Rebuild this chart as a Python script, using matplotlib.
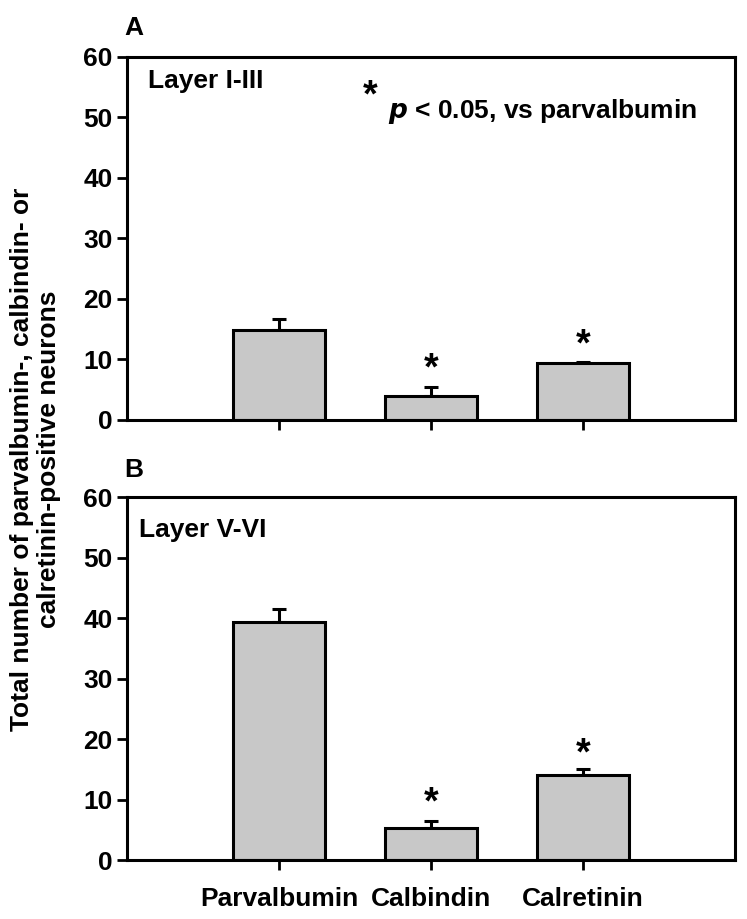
import matplotlib
matplotlib.use('Agg')
import matplotlib.pyplot as plt
import numpy as np

plt.rcParams['font.family'] = ['Liberation Sans', 'DejaVu Sans']
plt.rcParams['font.weight'] = 'bold'

# data
cats = ['Parvalbumin', 'Calbindin', 'Calretinin']
mean_a = [14.8, 4.0, 9.4]
err_a = [1.9, 1.5, 0.2]
star_a = [None, 8.4, 12.3]
mean_b = [39.3, 5.3, 14.1]
err_b = [2.3, 1.1, 0.9]
star_b = [None, 9.3, 17.4]

fig = plt.figure(figsize=(7.47, 9.19), dpi=100)
ax1 = fig.add_axes([0.170, 0.543, 0.814, 0.395])
ax2 = fig.add_axes([0.170, 0.064, 0.814, 0.395])

x = np.arange(1, 4)
for ax, m, e, s in [(ax1, mean_a, err_a, star_a), (ax2, mean_b, err_b, star_b)]:
    ax.bar(x, m, width=0.6, color='#c8c8c8', edgecolor='black', linewidth=2.2, zorder=2)
    ax.errorbar(x, m, yerr=[np.zeros(3), e], fmt='none', ecolor='black',
                elinewidth=2.2, capsize=5, capthick=2.2, zorder=1)
    for xi, si in zip(x, s):
        if si is not None:
            ax.text(xi, si, '*', ha='center', va='center', fontsize=27)
    ax.set_xlim(0, 4)
    ax.set_ylim(0, 60)
    ax.set_yticks(range(0, 61, 10))
    ax.set_xticks(x)
    for sp in ax.spines.values():
        sp.set_linewidth(2.2)
    ax.tick_params(direction='out', width=2, length=7, labelsize=19)

ax1.set_xticklabels([])
ax2.set_xticklabels(cats)
ax2.tick_params(axis='x', pad=12)

ax1.text(0.14, 56, 'Layer I-III', fontsize=19, va='center')
ax1.text(1.55, 53.5, '*', fontsize=27, ha='left', va='center')
ax1.text(1.72, 51, r'$\mathbfit{p}$ < 0.05, vs parvalbumin', fontsize=19, va='center')
ax2.text(0.08, 54.5, 'Layer V-VI', fontsize=19, va='center')

fig.text(0.166, 0.969, 'A', fontsize=19, va='center')
fig.text(0.166, 0.489, 'B', fontsize=19, va='center')
fig.text(0.047, 0.5, 'Total number of parvalbumin-, calbindin- or\ncalretinin-positive neurons',
         rotation=90, ha='center', va='center', fontsize=19, linespacing=1.15)

fig.savefig('out.png', dpi=100)
